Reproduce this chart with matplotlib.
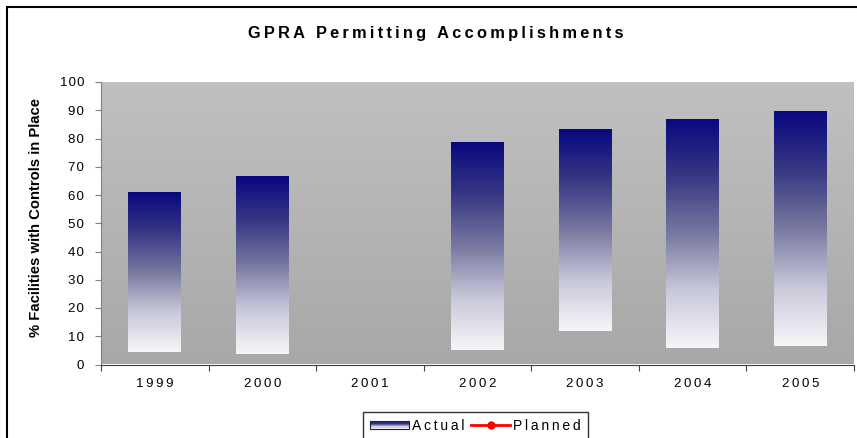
import numpy as np
import matplotlib
matplotlib.use("Agg")
import matplotlib.pyplot as plt
from matplotlib.patches import Rectangle
from matplotlib.lines import Line2D
from matplotlib.legend_handler import HandlerBase

# data
years = ["1999", "2000", "2001", "2002", "2003", "2004", "2005"]
actual_top = [61.0, 66.7, np.nan, 78.7, 83.3, 86.9, 89.7]
actual_base = [4.4, 3.7, np.nan, 5.3, 11.8, 5.8, 6.5]
planned = [np.nan] * 7   # no planned points are drawn in the reference

FONT = ["Liberation Sans", "DejaVu Sans"]
plt.rcParams["font.family"] = FONT


def spaced(s, sep="\u200a"):
    # imitate the wide letter spacing of the original
    return sep.join(s)


# gradient stops, bottom -> top (looks like Excel's navy-to-white fill)
stops_t = [0.0, 0.25, 0.5, 0.75, 1.0]
stops_c = np.array([[246, 246, 248], [200, 200, 218], [120, 120, 160],
                    [55, 55, 132], [8, 8, 128]]) / 255


def grad_color(t):
    return np.array([np.interp(t, stops_t, stops_c[:, k]) for k in range(3)]).T


def bar_gradient(n=256):
    t = np.linspace(0, 1, n)
    return grad_color(t)[:, None, :]


fig = plt.figure(figsize=(8.57, 4.38), dpi=100)
ax = fig.add_axes([101 / 857, 1 - 364.5 / 438, 753 / 857, 282.5 / 438])

# background gradient of the plot area
bg = np.linspace(168, 192, 256)[:, None] / 255
bg = np.dstack([bg, bg, bg])
ax.imshow(bg, extent=[0, 1, 0, 1], transform=ax.transAxes, origin="lower",
          aspect="auto", zorder=0)

x = np.arange(len(years))
heights = np.array(actual_top) - np.array(actual_base)
bars = ax.bar(x, heights, bottom=actual_base, width=0.49, color="none",
              edgecolor="none", zorder=2, label="Actual")
for b in bars:
    if np.isnan(b.get_height()):
        continue
    x0, y0 = b.get_x(), b.get_y()
    im = ax.imshow(bar_gradient(), extent=[x0, x0 + b.get_width(), y0, y0 + b.get_height()],
                   origin="lower", aspect="auto", zorder=2)
    im.set_clip_path(b)

ax.plot(x, planned, color="red", marker="o", lw=2, ms=5, label="Planned", zorder=3)

ax.set_xlim(-0.5, len(years) - 0.5)
ax.set_ylim(0, 100)
ax.set_yticks(np.arange(0, 101, 10))
ax.set_yticklabels([spaced(str(v)) for v in range(0, 101, 10)], fontsize=9.5)
ax.set_xticks(np.arange(len(years) + 1) - 0.5)
ax.set_xticklabels([])
ax.set_xticks(x, minor=True)
ax.set_xticklabels([spaced(y, "\u2009") for y in years], minor=True, fontsize=9.5)
ax.tick_params(axis="x", which="minor", length=0, pad=10)
ax.tick_params(axis="x", which="major", length=4, color="#404040")
ax.tick_params(axis="y", length=4, color="#808080", pad=8)
for s in ["top", "right"]:
    ax.spines[s].set_visible(False)
ax.spines["left"].set_color("#808080")
ax.spines["bottom"].set_color("#404040")

ax.set_ylabel("% Facilities with Controls in Place", fontsize=10.7, fontweight="bold",
              va="center")
ax.yaxis.set_label_coords(-0.086, 0.522)
fig.text(436 / 857, 1 - 33.5 / 438, spaced("GPRA Permitting Accomplishments", "\u2009"),
         ha="center", va="center", fontsize=11.8, fontweight="bold")

# outer chart frame (runs off the right and bottom edges)
fig.add_artist(Rectangle((7 / 857, -0.1), 1.2, 1.1 - 7 / 438, transform=fig.transFigure,
                         fill=False, ec="black", lw=1.5))


class GradientHandler(HandlerBase):
    def create_artists(self, legend, orig, xd, yd, w, h, fontsize, trans):
        arts = []
        n = 6
        y0 = yd + 0.1 * h
        hh = 0.8 * h
        for i in range(n):
            c = grad_color(1 - i / (n - 1))
            arts.append(Rectangle((xd, y0 + hh - (i + 1) * hh / n), w, hh / n,
                                  fc=c, ec="none", transform=trans))
        arts.append(Rectangle((xd, y0), w, hh, fill=False, ec="#202040", lw=0.8,
                              transform=trans))
        return arts


handles = [Rectangle((0, 0), 1, 1), Line2D([], [], color="red", marker="o", lw=2, ms=5)]
leg = fig.legend(handles, [spaced("Actual", "\u2009"), spaced("Planned", "\u2009")],
                 handler_map={Rectangle: GradientHandler()},
                 loc="upper left", bbox_to_anchor=(363 / 857, 1 - 412 / 438),
                 ncol=2, fontsize=10, frameon=True, fancybox=False,
                 borderaxespad=0, handlelength=2.8, columnspacing=0.45,
                 handletextpad=0.25, borderpad=0.5)
leg.get_frame().set_edgecolor("black")
leg.get_frame().set_linewidth(1.0)

fig.savefig("out.png", dpi=100)
